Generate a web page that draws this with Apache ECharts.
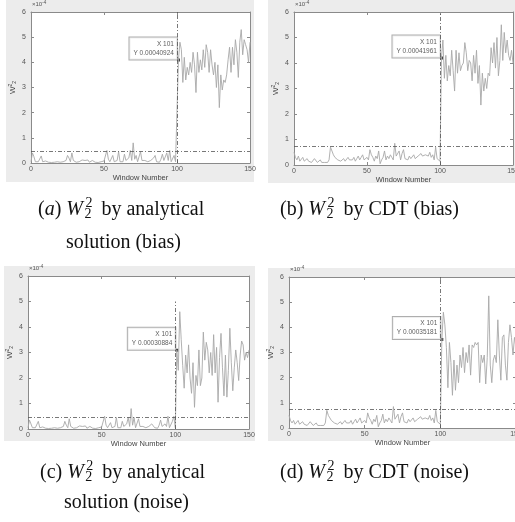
<!DOCTYPE html>
<html>
<head>
<meta charset="utf-8">
<script src="https://cdn.jsdelivr.net/npm/echarts@6/dist/echarts.min.js"></script>
<style>
html, body { margin: 0; padding: 0; background: #fff; }
#chart { width: 515px; height: 522px; }
</style>
</head>
<body>
<div id="chart"></div>
<script>
"use strict"

// W2^2 per window, in units of 1e-4 (windows 0..150)
const biasAnalytical = [
    0.05, 0.4, 0.25, 0.05, 0.1, 0.05, 0.1, 0.28, 0.05, 0.1, 0.08, 0.05, 0.03, 0.05, 0.02, 0.05, 0.03, 0.02, 0.05, 0.02,
    0.03, 0.02, 0.05, 0.02, 0.1, 0.3, 0.2, 0.05, 0.4, 0.1, 0.05, 0.03, 0.1, 0.05, 0.03, 0.12, 0.05, 0.1, 0.05, 0.12,
    0.03, 0.08, 0.1, 0.05, 0.03, 0.06, 0.02, 0.08, 0.05, 0.03, 0.08, 0.05, 0.5, 0.15, 0.05, 0.1, 0.3, 0.05, 0.02, 0.1,
    0.45, 0.05, 0.1, 0.05, 0.35, 0.1, 0.05, 0.2, 0.5, 0.1, 0.8, 0.15, 0.3, 0.05, 0.1, 0.45, 0.1, 0.05, 0.1, 0.03,
    0.05, 0.02, 0.1, 0.05, 0.2, 0.3, 0.05, 0.1, 0.03, 0.15, 0.35, 0.1, 0.05, 0.4, 0.1, 0.5, 0.05, 0.1, 0.3, 0.05,
    0.1,
    4.0924, 4.8, 4.5, 3.2, 4.2, 3.3, 3.8, 3.5, 4.0, 3.6, 4.4, 3.9, 2.8, 4.4, 3.6, 4.1, 3.7, 4.5, 3.8, 4.7,
    4.4, 3.6, 4.5, 3.9, 3.5, 4.0, 3.0, 3.9, 2.2, 3.5, 2.9, 3.3, 3.2, 3.5, 4.1, 4.6, 3.6, 4.6, 3.9, 4.9,
    4.4, 3.4, 4.8, 5.3, 4.3, 4.9, 4.7, 4.5, 4.0, 4.8
];
const biasCDT = [
    0.5, 0.3, 0.2, 0.35, 0.15, 0.2, 0.3, 0.15, 0.2, 0.25, 0.15, 0.2, 0.1, 0.15, 0.25, 0.2, 0.1, 0.15, 0.2, 0.1,
    0.15, 0.1, 0.15, 0.1, 0.2, 0.7, 0.55, 0.4, 0.3, 0.25, 0.2, 0.25, 0.15, 0.2, 0.25, 0.15, 0.2, 0.3, 0.2, 0.25,
    0.2, 0.3, 0.15, 0.25, 0.35, 0.2, 0.3, 0.4, 0.2, 0.15, 0.3, 0.2, 0.6, 0.4, 0.3, 0.15, 0.35, 0.25, 0.55, 0.05,
    0.2, 0.3, 0.55, 0.2, 0.35, 0.25, 0.4, 0.3, 0.2, 0.85, 0.35, 0.3, 0.55, 0.2, 0.45, 0.6, 0.25, 0.3, 0.2, 0.35,
    0.25, 0.3, 0.4, 0.25, 0.3, 0.35, 0.3, 0.45, 0.35, 0.3, 0.4, 0.45, 0.35, 0.5, 0.3, 0.4, 0.2, 0.7, 0.25, 0.2,
    0.15,
    4.1961, 4.9, 3.4, 4.3, 3.3, 3.9, 3.5, 4.5, 3.7, 2.9, 4.5, 3.6, 4.4, 3.7, 3.9, 4.0, 4.8, 4.4, 3.7, 4.1,
    4.0, 3.3, 4.3, 3.6, 4.5, 3.2, 3.9, 2.35, 3.6, 2.9, 3.4, 3.0, 3.6, 3.5, 4.6, 4.0, 4.8, 3.8, 5.0, 3.5,
    4.1, 5.5, 4.1, 5.2, 4.4, 4.9, 4.3, 4.1, 4.5, 4.0
];
const noiseAnalytical = [
    0.05, 0.35, 0.2, 0.05, 0.1, 0.05, 0.1, 0.3, 0.05, 0.1, 0.08, 0.05, 0.03, 0.05, 0.02, 0.05, 0.03, 0.02, 0.05, 0.02,
    0.03, 0.02, 0.05, 0.02, 0.1, 0.3, 0.15, 0.05, 0.4, 0.1, 0.05, 0.03, 0.1, 0.05, 0.03, 0.12, 0.05, 0.1, 0.05, 0.12,
    0.03, 0.08, 0.1, 0.05, 0.03, 0.06, 0.02, 0.08, 0.05, 0.03, 0.08, 0.05, 0.5, 0.15, 0.05, 0.1, 0.25, 0.05, 0.02, 0.1,
    0.45, 0.05, 0.1, 0.05, 0.3, 0.1, 0.05, 0.2, 0.45, 0.1, 0.8, 0.15, 0.45, 0.05, 0.1, 0.4, 0.1, 0.05, 0.1, 0.03,
    0.05, 0.02, 0.1, 0.05, 0.2, 0.2, 0.05, 0.1, 0.03, 0.15, 0.35, 0.1, 0.05, 0.2, 0.1, 0.5, 0.05, 0.1, 0.3, 0.5,
    0.05,
    3.0884, 2.3, 4.6, 3.5, 2.5, 1.6, 2.9, 2.2, 3.3, 2.0, 1.4, 2.6, 0.85, 2.1, 1.7, 3.1, 1.7, 2.0, 3.8, 2.7,
    3.4, 3.1, 2.2, 3.0, 2.1, 3.7, 2.2, 3.2, 1.05, 2.8, 3.75, 2.4, 1.3, 2.9, 1.25, 2.3, 3.95, 2.6, 1.5, 2.4,
    3.1, 2.6, 1.9, 2.9, 3.45, 3.3, 2.7, 3.0, 2.8, 3.1
];
const noiseCDT = [
    0.5, 0.3, 0.2, 0.3, 0.15, 0.2, 0.3, 0.15, 0.2, 0.25, 0.15, 0.2, 0.1, 0.15, 0.25, 0.2, 0.1, 0.15, 0.2, 0.1,
    0.15, 0.1, 0.15, 0.1, 0.2, 0.7, 0.5, 0.4, 0.3, 0.25, 0.2, 0.25, 0.15, 0.2, 0.25, 0.15, 0.2, 0.3, 0.2, 0.25,
    0.2, 0.3, 0.15, 0.25, 0.35, 0.2, 0.3, 0.4, 0.2, 0.15, 0.3, 0.2, 0.6, 0.4, 0.3, 0.15, 0.35, 0.25, 0.5, 0.05,
    0.2, 0.3, 0.55, 0.2, 0.35, 0.25, 0.4, 0.3, 0.2, 0.85, 0.35, 0.3, 0.55, 0.2, 0.45, 0.6, 0.25, 0.3, 0.2, 0.35,
    0.25, 0.3, 0.4, 0.25, 0.3, 0.35, 0.3, 0.45, 0.35, 0.3, 0.4, 0.45, 0.35, 0.5, 0.3, 0.4, 0.2, 0.7, 0.25, 0.2,
    0.15,
    3.5181, 4.6, 4.1, 3.2, 1.6, 3.4, 2.6, 1.3, 2.7, 1.5, 2.5, 1.8, 2.9, 2.4, 3.2, 2.2, 3.0, 2.6, 3.3, 2.1,
    3.3, 3.2, 3.4, 3.3, 3.4, 1.8, 2.9, 2.6, 2.9, 1.75, 2.8, 5.25, 2.5, 1.8, 2.7, 2.9, 2.6, 4.3, 2.9, 1.9,
    3.6, 3.7, 2.5, 1.9, 3.4, 4.1, 3.6, 2.9, 3.6, 3.2
];
const thresholds = [0.45, 0.73, 0.45, 0.73];
const changeWindow = 100;
const changeLineTop = [6, 6, 5, 6];
const tipWindow = 101;
const xTicks = [0, 50, 100, 150];
const yTicks = [0, 1, 2, 3, 4, 5, 6];
const yScale = 1e-4;

const seriesData = [biasAnalytical, biasCDT, noiseAnalytical, noiseCDT];

// panel layout: figure background and plot box, in pixels
const panels = [
    { bg: [6, 0, 248, 182], box: [31, 12, 219, 151] },
    { bg: [268, 0, 247, 183], box: [294, 12, 219, 153] },
    { bg: [4, 266, 251, 175], box: [28, 276, 221, 153] },
    { bg: [268, 268, 247, 173], box: [289, 277, 227, 151] }
];

const captions = [
    { x: 38, y: 210, size: 20, pieces: [{ t: "(" }, { t: "a", it: true }, { t: ") " }, { t: "W", it: true }, { sup: "2", sub: "2" }, { t: " by analytical" }] },
    { x: 66, y: 243, size: 20, pieces: [{ t: "solution (bias)" }] },
    { x: 280, y: 210, size: 20, pieces: [{ t: "(b) " }, { t: "W", it: true }, { sup: "2", sub: "2" }, { t: " by CDT (bias)" }] },
    { x: 40, y: 473, size: 20, pieces: [{ t: "(c) " }, { t: "W", it: true }, { sup: "2", sub: "2" }, { t: " by analytical" }] },
    { x: 64, y: 503, size: 20, pieces: [{ t: "solution (noise)" }] },
    { x: 280, y: 473, size: 20, pieces: [{ t: "(d) " }, { t: "W", it: true }, { sup: "2", sub: "2" }, { t: " by CDT (noise)" }] }
];

const SERIF = '"Liberation Serif", "Times New Roman", serif';
const SANS = '"Liberation Sans", Arial, sans-serif';
const axisColor = "#8a8a8a";
const labelColor = "#555";

const measureCtx = document.createElement("canvas").getContext("2d");
function textWidth(str, font)
{
    measureCtx.font = font;
    return measureCtx.measureText(str).width;
}

function captionElements(cap)
{
    const els = [];
    let cx = cap.x;
    cap.pieces.forEach(p =>
    {
        if (p.sup)
        {
            const sf = Math.round(cap.size * 0.68) + "px " + SERIF;
            cx += 1.5;
            els.push({ type: "text", x: cx, y: cap.y - cap.size * 0.32, style: { text: p.sup, font: sf, fill: "#111", textVerticalAlign: "middle", verticalAlign: "middle" } });
            els.push({ type: "text", x: cx - 1, y: cap.y + cap.size * 0.22, style: { text: p.sub, font: sf, fill: "#111", textVerticalAlign: "middle", verticalAlign: "middle" } });
            cx += textWidth(p.sup, sf) + 4;
        }
        else
        {
            const f = (p.it ? "italic " : "") + cap.size + "px " + SERIF;
            els.push({ type: "text", x: cx, y: cap.y, style: { text: p.t, font: f, fill: "#111", textVerticalAlign: "middle", verticalAlign: "middle" } });
            cx += textWidth(p.t, f) + (p.it && p.t === "W" ? 1 : 0);
        }
    });
    return els;
}

const graphics = [];
panels.forEach(p =>
{
    graphics.push({ type: "rect", z: -10, shape: { x: p.bg[0], y: p.bg[1], width: p.bg[2], height: p.bg[3] }, style: { fill: "#ececec" } });
    graphics.push({
        type: "text", x: p.box[0] + 1, y: p.box[1] - 3,
        style: { text: "×10{s|-4}", font: "6px " + SANS, fill: labelColor, textVerticalAlign: "bottom", verticalAlign: "bottom", rich: { s: { fontSize: 4.5, fill: labelColor, padding: [0, 0, 4, 0] } } }
    });
});
captions.forEach(c => graphics.push(...captionElements(c)));

const grids = [], xAxes = [], yAxes = [], series = [];
const lineStyleAxis = { color: axisColor, width: 1 };

panels.forEach((p, i) =>
{
    grids.push({ left: p.box[0], top: p.box[1], width: p.box[2], height: p.box[3], outerBoundsMode: "none", containLabel: false, show: true, backgroundColor: "#fff", borderWidth: 0 });
    const xBase = { gridIndex: i, type: "value", min: xTicks[0], max: xTicks[xTicks.length - 1], interval: xTicks[1] - xTicks[0], splitLine: { show: false }, axisLine: { show: true, onZero: false, lineStyle: lineStyleAxis }, axisTick: { inside: true, length: 3, lineStyle: lineStyleAxis } };
    const yBase = { gridIndex: i, type: "value", min: yTicks[0], max: yTicks[yTicks.length - 1], interval: yTicks[1] - yTicks[0], splitLine: { show: false }, axisLine: { show: true, onZero: false, lineStyle: lineStyleAxis }, axisTick: { inside: true, length: 3, lineStyle: lineStyleAxis } };
    xAxes.push(Object.assign({}, xBase, {
        position: "bottom",
        name: "Window Number", nameLocation: "middle", nameGap: 11,
        nameTextStyle: { fontSize: 7.5, color: "#444", fontFamily: SANS },
        axisLabel: { fontSize: 7, color: labelColor, fontFamily: SANS, margin: 3 }
    }));
    xAxes.push(Object.assign({}, xBase, { position: "top", axisLabel: { show: false } }));
    yAxes.push(Object.assign({}, yBase, {
        position: "left",
        name: "W{sup|2}{sub|2}", nameLocation: "middle", nameGap: 13, nameRotate: 90,
        nameTextStyle: { fontSize: 8, color: "#444", fontFamily: SANS, rich: { sup: { fontSize: 5, color: "#444", padding: [0, 0, 5, 0] }, sub: { fontSize: 5, color: "#444", padding: [3, 0, 0, 0] } } },
        axisLabel: { fontSize: 7, color: labelColor, fontFamily: SANS, margin: 5 }
    }));
    yAxes.push(Object.assign({}, yBase, { position: "right", axisLabel: { show: false } }));

    const data = seriesData[i];
    series.push({
        type: "line", xAxisIndex: 2 * i, yAxisIndex: 2 * i,
        data: data.map((v, n) => [n, v]),
        symbol: "none", silent: true, clip: true,
        lineStyle: { color: "#a8a8a8", width: 0.9 },
        markLine: {
            silent: true, symbol: "none", label: { show: false },
            lineStyle: { color: "#555", width: 0.8, type: [4, 2, 1, 2] },
            data: [
                [{ coord: [xTicks[0], thresholds[i]] }, { coord: [xTicks[xTicks.length - 1], thresholds[i]] }],
                [{ coord: [changeWindow, 0] }, { coord: [changeWindow, changeLineTop[i]] }]
            ]
        }
    });
    const tipVal = data[tipWindow];
    series.push({
        type: "scatter", xAxisIndex: 2 * i, yAxisIndex: 2 * i,
        data: [[tipWindow, tipVal]],
        symbol: "rect", symbolSize: 3, silent: true,
        itemStyle: { color: "#111" },
        label: {
            show: true, position: [0, 1], align: "right", verticalAlign: "bottom",
            formatter: () => "X " + tipWindow + "\nY " + (tipVal * yScale).toFixed(8),
            fontSize: 6.5, lineHeight: 9, color: "#333", fontFamily: SANS,
            backgroundColor: "#fff", borderColor: "#9a9a9a", borderWidth: 1, padding: [2, 3, 2, 4]
        }
    });
});

const myChart = echarts.init(document.getElementById("chart"), null, { renderer: "canvas" });
myChart.setOption({
    animation: false,
    backgroundColor: "#fff",
    grid: grids,
    xAxis: xAxes,
    yAxis: yAxes,
    series: series,
    graphic: graphics
});
</script>
</body>
</html>
